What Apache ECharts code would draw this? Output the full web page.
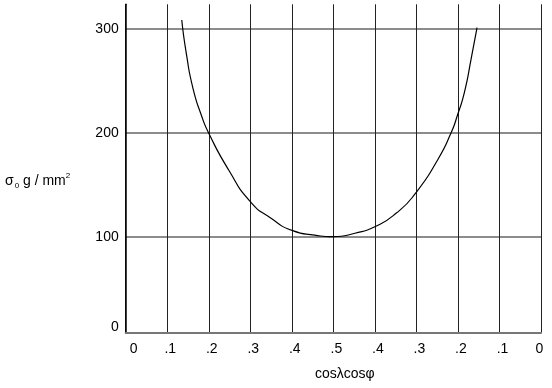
<!DOCTYPE html>
<html>
<head>
<meta charset="utf-8">
<script src="https://cdn.jsdelivr.net/npm/echarts@6/dist/echarts.min.js"></script>
<style>html,body{margin:0;padding:0;background:#fff;}#c{width:552px;height:388px;}</style>
</head>
<body>
<div id="c"></div>
<script>
// x positions are indices along the axis (0..10); labels read 0 .1 ... .5 ... .1 0
var xTickLabels = ['0', '.1', '.2', '.3', '.4', '.5', '.4', '.3', '.2', '.1', '0'];
var yTickValues = [7.5, 100, 200, 300];
var yTickLabels = ['0', '100', '200', '300'];
var curveX = [1.35, 1.465, 1.62, 1.82, 2.0, 2.48, 3.0, 3.5, 4.02, 4.55, 5.0, 5.52, 6.0, 6.51, 6.99, 7.51, 7.83, 7.99, 8.16, 8.32, 8.46];
var curveY = [308.7, 275, 242.9, 217.2, 199.6, 164.2, 133.7, 117.7, 105.8, 101.5, 100, 103.3, 109.6, 122.5, 142.4, 173.9, 199.6, 217.2, 239.7, 271.8, 301.3];

var data = curveX.map(function (x, i) { return [x, curveY[i]]; });
var font = 'Liberation Sans, Arial, Helvetica, sans-serif';
var chart = echarts.init(document.getElementById('c'));
chart.setOption({
  animation: false,
  grid: { left: 125.7, right: 11, top: 4.3, bottom: 55.3 },
  xAxis: {
    type: 'value', min: 0, max: 10, interval: 1,
    axisLine: { show: true, lineStyle: { color: '#777', width: 2 } },
    axisTick: { show: false },
    axisLabel: { margin: 9, color: '#000', fontSize: 14, fontFamily: font,
      formatter: function (v) {
        var i = Math.round(v);
        var k = i === 0 ? 'f' : (i === 10 ? 'l' : 'm');
        return '{' + k + '|' + xTickLabels[i] + '}';
      },
      rich: {
        f: { fontSize: 14, fontFamily: font, padding: [0, 0, 0, 16] },
        m: { fontSize: 14, fontFamily: font, padding: [0, 0, 0, 6] },
        l: { fontSize: 14, fontFamily: font, padding: [0, 3, 0, 0] }
      } },
    splitLine: { show: true, lineStyle: { color: '#222', width: 1 } }
  },
  yAxis: {
    type: 'value', min: 7.5, max: 323.8,
    axisLine: { show: true, lineStyle: { color: '#000', width: 1.5 } },
    axisTick: { show: false, customValues: yTickValues.slice(1) },
    axisLabel: { customValues: yTickValues, margin: 7, color: '#000', fontSize: 14, fontFamily: font,
      formatter: function (v) {
        var i = yTickValues.indexOf(v);
        return i === 0 ? '{z|' + yTickLabels[i] + '}' : yTickLabels[i];
      },
      rich: { z: { fontSize: 14, fontFamily: font, padding: [0, 0, 12, 0] } } },
    splitLine: { show: true, lineStyle: { color: '#666', width: 1.5 } }
  },
  graphic: [
    { type: 'text', left: 5, top: 172, style: {
      text: '{a|σ}{s|0}{a| g / mm}{p|2}', fill: '#000', font: '14px ' + font,
      rich: {
        a: { fontSize: 14, fontFamily: font, lineHeight: 18, verticalAlign: 'middle' },
        s: { fontSize: 8, fontFamily: font, lineHeight: 18, verticalAlign: 'bottom', padding: [0, 0, 0, 1] },
        p: { fontSize: 8, fontFamily: font, lineHeight: 18, verticalAlign: 'top' }
      } } },
    { type: 'text', left: 315, top: 367, style: { text: 'cosλcosφ', fill: '#000', font: '14px ' + font } }
  ],
  series: [{
    type: 'line', data: data, smooth: 0.6, showSymbol: false, symbol: 'none',
    lineStyle: { color: '#000', width: 1.2 }
  }]
});
</script>
</body>
</html>
